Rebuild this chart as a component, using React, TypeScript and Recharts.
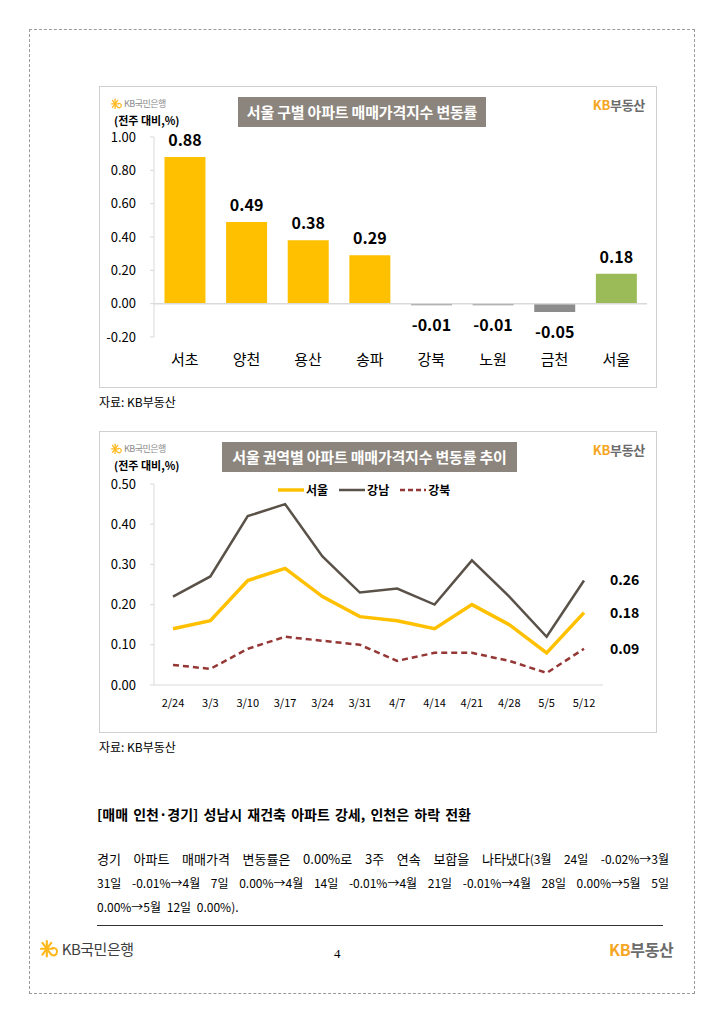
import {
  BarChart,
  Bar,
  Cell,
  LineChart,
  Line,
  XAxis,
  YAxis,
  ReferenceLine,
  LabelList,
} from 'recharts';

// 서울 구별 주간 변동률 (%)
const districts = ['서초', '양천', '용산', '송파', '강북', '노원', '금천', '서울'];
const districtChange = [0.88, 0.49, 0.38, 0.29, -0.01, -0.01, -0.05, 0.18];
const barTicks = [-0.2, 0, 0.2, 0.4, 0.6, 0.8, 1.0];

// 권역별 주간 추이 (%)
const weeks = ['2/24', '3/3', '3/10', '3/17', '3/24', '3/31', '4/7', '4/14', '4/21', '4/28', '5/5', '5/12'];
const seoulSeries = [0.14, 0.16, 0.26, 0.29, 0.22, 0.17, 0.16, 0.14, 0.2, 0.15, 0.08, 0.18];
const gangnamSeries = [0.22, 0.27, 0.42, 0.45, 0.32, 0.23, 0.24, 0.2, 0.31, 0.22, 0.12, 0.26];
const gangbukSeries = [0.05, 0.04, 0.09, 0.12, 0.11, 0.1, 0.06, 0.08, 0.08, 0.06, 0.03, 0.09];
const lineTicks = [0, 0.1, 0.2, 0.3, 0.4, 0.5];

const FONT = '"Noto Sans CJK KR", "Noto Sans", sans-serif';
const YELLOW = '#FFC000';
const GREEN = '#9BBB59';
const GREY_BAR = '#8C8C8C';
const GANGNAM = '#5A5249';
const GANGBUK = '#953735';
const AXIS = '#D9D9D9';

const barData = districts.map((name, i) => ({ name, value: districtChange[i] }));
const lineData = weeks.map((week, i) => ({
  week,
  seoul: seoulSeries[i],
  gangnam: gangnamSeries[i],
  gangbuk: gangbukSeries[i],
}));

const barColor = (name: string, value: number) => {
  if (name === '서울') return GREEN;
  return value < 0 ? GREY_BAR : YELLOW;
};

function KbStar({ size }: { size: number }) {
  return (
    <svg width={size} height={size} viewBox="0 0 20 20" style={{ display: 'block' }}>
      <g stroke="#FFB81C" strokeWidth={2.2} strokeLinecap="round">
        <line x1="7" y1="2" x2="7" y2="18" />
        <line x1="1" y1="10" x2="13" y2="10" />
        <line x1="2.5" y1="4" x2="11.5" y2="16" />
        <line x1="2.5" y1="16" x2="11.5" y2="4" />
      </g>
      <path d="M12 9 Q19 9 17 15 Q15 18 12 16" fill="none" stroke="#FFB81C" strokeWidth={2} />
    </svg>
  );
}

function KbBankLogo({ size, color }: { size: number; color: string }) {
  return (
    <div style={{ display: 'flex', alignItems: 'center', gap: size * 0.15, whiteSpace: 'nowrap' }}>
      <KbStar size={size * 1.3} />
      <span style={{ fontFamily: FONT, fontSize: size, color, letterSpacing: -0.5 }}>KB국민은행</span>
    </div>
  );
}

function KbLandLogo({ size }: { size: number }) {
  return (
    <span style={{ fontFamily: FONT, fontSize: size, fontWeight: 700, letterSpacing: -0.3, whiteSpace: 'nowrap' }}>
      <span style={{ color: '#F5A623' }}>KB</span>
      <span style={{ color: '#6B6B6B' }}>부동산</span>
    </span>
  );
}

function TitleBox({ text, left, top, width }: { text: string; left: number; top: number; width: number }) {
  return (
    <div
      style={{
        position: 'absolute',
        left,
        top,
        width,
        height: 30,
        background: '#8C857D',
        color: '#fff',
        fontFamily: FONT,
        fontWeight: 700,
        fontSize: 15,
        lineHeight: '30px',
        textAlign: 'center',
        whiteSpace: 'nowrap',
        letterSpacing: -0.2,
      }}
    >
      {text}
    </div>
  );
}

function ChartFrame({ top, title, titleLeft, titleWidth, children }: any) {
  return (
    <div
      style={{
        position: 'absolute',
        left: 99,
        top,
        width: 558,
        height: 302,
        border: '1px solid #D0D0D0',
        boxSizing: 'border-box',
        background: '#fff',
      }}
    >
      {children}
      <div style={{ position: 'absolute', left: 11, top: 10 }}>
        <KbBankLogo size={9} color="#8A8A8A" />
      </div>
      <div
        style={{
          position: 'absolute',
          left: 14,
          top: 25,
          fontFamily: FONT,
          fontSize: 11,
          fontWeight: 700,
          color: '#000',
          whiteSpace: 'nowrap',
        }}
      >
        (전주 대비,%)
      </div>
      <div style={{ position: 'absolute', right: 11, top: 8 }}>
        <KbLandLogo size={13} />
      </div>
      <TitleBox text={title} left={titleLeft} top={10} width={titleWidth} />
    </div>
  );
}

const BarValueLabel = (props: any) => {
  const { x, y, width, height, value } = props;
  const top = Math.min(y, y + height);
  const bottom = Math.max(y, y + height);
  const ty = value >= 0 ? top - 11 : bottom + 26;
  return (
    <text
      x={x + width / 2}
      y={ty}
      textAnchor="middle"
      fontFamily={FONT}
      fontSize={16}
      fontWeight={700}
      fill="#000"
    >
      {value.toFixed(2)}
    </text>
  );
};

const makeEndLabel = (count: number) => (props: any) => {
  const { x, y, value, index } = props;
  if (index !== count - 1) return null;
  return (
    <text x={x + 26} y={y + 5} fontFamily={FONT} fontSize={14} fontWeight={700} fill="#000">
      {value.toFixed(2)}
    </text>
  );
};

const legendItems = [
  { label: '서울', color: YELLOW, dash: undefined as string | undefined, width: 3.5 },
  { label: '강남', color: GANGNAM, dash: undefined as string | undefined, width: 2.5 },
  { label: '강북', color: GANGBUK, dash: '5 3', width: 2.5 },
];

const TrendLegend = () => (
  <div style={{ display: 'flex', alignItems: 'center', gap: 10, whiteSpace: 'nowrap' }}>
    {legendItems.map((item) => (
      <div key={item.label} style={{ display: 'flex', alignItems: 'center', flexShrink: 0 }}>
        <svg width={28} height={8} style={{ display: 'block' }}>
          <line
            x1={1}
            y1={4}
            x2={27}
            y2={4}
            stroke={item.color}
            strokeWidth={item.width}
            strokeDasharray={item.dash}
          />
        </svg>
        <span style={{ fontFamily: FONT, fontSize: 12, fontWeight: 700, color: '#000', marginLeft: 1 }}>
          {item.label}
        </span>
      </div>
    ))}
  </div>
);

const tickStyle = { fontFamily: FONT, fontSize: 13, fill: '#000' };

export default function App() {
  return (
    <div style={{ position: 'absolute', left: 0, top: 0, width: 724, height: 1024, background: '#fff' }}>
      {/* page border */}
      <div
        style={{
          position: 'absolute',
          left: 29,
          top: 29,
          width: 666,
          height: 965,
          border: '1px dashed #9A9A9A',
          boxSizing: 'border-box',
        }}
      />

      <ChartFrame top={86} title="서울 구별 아파트 매매가격지수 변동률" titleLeft={138} titleWidth={248}>
        <BarChart
          width={558}
          height={302}
          data={barData}
          margin={{ top: 51, right: 10, bottom: 11, left: 10 }}
          barCategoryGap="17%"
          style={{ position: 'absolute', left: -1, top: -1 }}
        >
          <YAxis
            domain={[-0.2, 1.0]}
            ticks={barTicks}
            width={45}
            tickFormatter={(v: number) => v.toFixed(2)}
            tick={tickStyle}
            axisLine={{ stroke: AXIS }}
            tickLine={{ stroke: AXIS }}
            tickSize={4}
            tickMargin={14}
            interval={0}
          />
          <XAxis
            dataKey="name"
            height={40}
            axisLine={false}
            tickLine={false}
            tickMargin={11}
            tick={{ fontFamily: FONT, fontSize: 15, fill: '#000' }}
            interval={0}
          />
          <ReferenceLine y={0} stroke={AXIS} strokeWidth={1.5} />
          <Bar dataKey="value" isAnimationActive={false}>
            {barData.map((d) => (
              <Cell key={d.name} fill={barColor(d.name, d.value)} />
            ))}
            <LabelList dataKey="value" content={BarValueLabel} />
          </Bar>
        </BarChart>
      </ChartFrame>

      <div style={{ position: 'absolute', left: 99, top: 393, fontFamily: FONT, fontSize: 12, color: '#000' }}>
        자료: KB부동산
      </div>

      <ChartFrame top={431} title="서울 권역별 아파트 매매가격지수 변동률 추이" titleLeft={122} titleWidth={295}>
        <LineChart
          width={558}
          height={302}
          data={lineData}
          margin={{ top: 53, right: 54, bottom: 18, left: 10 }}
          style={{ position: 'absolute', left: -1, top: -1 }}
        >
          <YAxis
            domain={[0, 0.5]}
            ticks={lineTicks}
            width={45}
            tickFormatter={(v: number) => v.toFixed(2)}
            tick={tickStyle}
            axisLine={{ stroke: AXIS }}
            tickLine={{ stroke: AXIS }}
            tickSize={4}
            tickMargin={14}
            interval={0}
          />
          <XAxis
            dataKey="week"
            height={30}
            padding={{ left: 19, right: 19 }}
            axisLine={{ stroke: AXIS }}
            tickLine={false}
            tickMargin={8}
            tick={{ fontFamily: FONT, fontSize: 11, fill: '#000' }}
            interval={0}
          />
          <Line
            type="linear"
            dataKey="gangnam"
            stroke={GANGNAM}
            strokeWidth={2.5}
            dot={false}
            isAnimationActive={false}
          >
            <LabelList dataKey="gangnam" content={makeEndLabel(weeks.length)} />
          </Line>
          <Line
            type="linear"
            dataKey="gangbuk"
            stroke={GANGBUK}
            strokeWidth={2.5}
            strokeDasharray="6 4"
            dot={false}
            isAnimationActive={false}
          >
            <LabelList dataKey="gangbuk" content={makeEndLabel(weeks.length)} />
          </Line>
          <Line
            type="linear"
            dataKey="seoul"
            stroke={YELLOW}
            strokeWidth={3.5}
            dot={false}
            isAnimationActive={false}
          >
            <LabelList dataKey="seoul" content={makeEndLabel(weeks.length)} />
          </Line>
        </LineChart>
        <div style={{ position: 'absolute', left: 177, top: 49 }}>
          <TrendLegend />
        </div>
      </ChartFrame>

      <div style={{ position: 'absolute', left: 99, top: 738, fontFamily: FONT, fontSize: 12, color: '#000' }}>
        자료: KB부동산
      </div>

      {/* 본문 */}
      <div
        style={{
          position: 'absolute',
          left: 97,
          top: 804,
          fontFamily: FONT,
          fontSize: 14,
          fontWeight: 700,
          color: '#000',
          wordSpacing: 2,
          whiteSpace: 'nowrap',
        }}
      >
        [매매 인천·경기] 성남시 재건축 아파트 강세, 인천은 하락 전환
      </div>
      <div
        style={{
          position: 'absolute',
          left: 97,
          top: 847,
          width: 572,
          fontFamily: FONT,
          fontSize: 13,
          lineHeight: '24px',
          color: '#000',
        }}
      >
        <div style={{ textAlign: 'justify', textAlignLast: 'justify' }}>
          경기 아파트 매매가격 변동률은 0.00%로 3주 연속 보합을 나타냈다
          <span style={{ fontSize: 12 }}>(3월 24일 -0.02%→3월</span>
        </div>
        <div style={{ textAlign: 'justify', textAlignLast: 'justify', fontSize: 12 }}>
          31일 -0.01%→4월 7일 0.00%→4월 14일 -0.01%→4월 21일 -0.01%→4월 28일 0.00%→5월 5일
        </div>
        <div style={{ fontSize: 12, wordSpacing: 3 }}>0.00%→5월 12일 0.00%).</div>
      </div>

      {/* 하단 */}
      <div style={{ position: 'absolute', left: 97, top: 925, width: 566, height: 1, background: '#333' }} />
      <div style={{ position: 'absolute', left: 40, top: 938 }}>
        <KbBankLogo size={15} color="#404040" />
      </div>
      <div
        style={{
          position: 'absolute',
          left: 334,
          top: 946,
          fontFamily: '"Liberation Serif", serif',
          fontSize: 13,
          color: '#000',
        }}
      >
        4
      </div>
      <div style={{ position: 'absolute', left: 609, top: 937 }}>
        <KbLandLogo size={16} />
      </div>
    </div>
  );
}
